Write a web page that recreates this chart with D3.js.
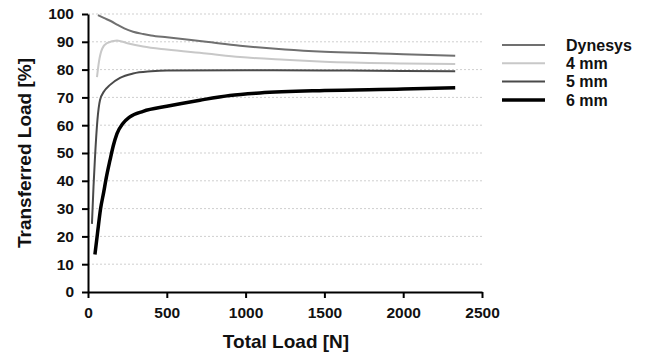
<!DOCTYPE html>
<html>
<head>
<meta charset="utf-8">
<script src="https://cdn.jsdelivr.net/npm/d3@7"></script>
<style>
  body { margin: 0; background: #fff; }
  svg text { font-family: "Liberation Sans", Arial, sans-serif; font-weight: bold; fill: #111; }
</style>
</head>
<body>
<svg id="chart" width="650" height="353"></svg>
<script>
// Data: [total load N, transferred load %]
const dynesys = [[63,99.6],[100,98.6],[150,97.3],[184,96.2],[230,94.8],[286,93.6],[350,92.8],[400,92.3],[501,91.6],[750,90],[965,88.6],[1250,87.2],[1500,86.4],[1850,85.8],[2000,85.5],[2330,85]];
const mm4 = [[57,77.3],[70,83],[90,87.5],[120,89.5],[184,90.5],[250,89.5],[350,88.3],[500,87.2],[750,85.8],[965,84.5],[1250,83.5],[1500,82.8],[2000,82.2],[2330,82]];
const mm5 = [[25,24.5],[35,38],[44,48],[60,62],[76,69],[100,72],[140,74.5],[203,77],[286,78.6],[400,79.4],[501,79.7],[1000,79.8],[1500,79.7],[2000,79.5],[2330,79.4]];
const mm6 = [[44,13.5],[60,21],[80,30],[100,36],[114,40.5],[140,47.5],[160,52.5],[184,57],[220,60.5],[266,63],[350,65],[500,66.8],[710,69],[900,70.7],[1090,71.6],[1500,72.5],[2000,73],[2330,73.5]];

const seriesNames = ['Dynesys', '4 mm', '5 mm', '6 mm'];
const seriesData = [dynesys, mm4, mm5, mm6];
const seriesColors = ['#707070', '#c8c8c8', '#4a4a4a', '#000000'];
const seriesWidths = [2, 2, 2, 3.5];

const xTicks = [0, 500, 1000, 1500, 2000, 2500];
const yTicks = [0, 10, 20, 30, 40, 50, 60, 70, 80, 90, 100];

const svg = d3.select('#chart');

const x = d3.scaleLinear().domain([0, 2500]).range([88, 482]);
const y = d3.scaleLinear().domain([0, 100]).range([292, 14]);

// Dotted gridlines
svg.append('g')
  .selectAll('line')
  .data(yTicks.filter(d => d > 0))
  .enter()
  .append('line')
  .attr('x1', x(0))
  .attr('x2', x(2500))
  .attr('y1', d => y(d))
  .attr('y2', d => y(d))
  .attr('stroke', '#cfcfcf')
  .attr('stroke-width', 1)
  .attr('stroke-dasharray', '2,2');

// Curves
const line = d3.line()
  .x(d => x(d[0]))
  .y(d => y(d[1]))
  .curve(d3.curveMonotoneX);

svg.append('g')
  .selectAll('path')
  .data(seriesData)
  .enter()
  .append('path')
  .attr('d', line)
  .attr('fill', 'none')
  .attr('stroke', (d, i) => seriesColors[i])
  .attr('stroke-width', (d, i) => seriesWidths[i]);

// Axes
const xAxis = svg.append('g')
  .attr('transform', 'translate(0,' + y(0) + ')')
  .call(d3.axisBottom(x).tickValues(xTicks).tickFormat(d3.format('d'))
    .tickSize(6).tickPadding(9).tickSizeOuter(0));

const yAxis = svg.append('g')
  .attr('transform', 'translate(' + x(0) + ',0)')
  .call(d3.axisLeft(y).tickValues(yTicks).tickFormat(d3.format('d'))
    .tickSize(6).tickPadding(8).tickSizeOuter(0));

[xAxis, yAxis].forEach(function (g) {
  g.select('.domain').attr('stroke', '#000').attr('stroke-width', 2);
  g.selectAll('.tick line').attr('stroke', '#000').attr('stroke-width', 2);
  g.selectAll('.tick text').style('font-size', '15.5px').style('font-weight', 'bold')
    .style('font-family', '"Liberation Sans", Arial, sans-serif').attr('fill', '#111');
});

// Axis titles
svg.append('text')
  .attr('x', 286)
  .attr('y', 348)
  .attr('text-anchor', 'middle')
  .style('font-size', '19px')
  .text('Total Load [N]');

svg.append('text')
  .attr('transform', 'translate(31,153) rotate(-90)')
  .attr('text-anchor', 'middle')
  .style('font-size', '19px')
  .text('Transferred Load [%]');

// Legend
const legend = svg.append('g')
  .selectAll('g')
  .data(seriesNames)
  .enter()
  .append('g')
  .attr('transform', (d, i) => 'translate(502,' + (45 + i * 18.3) + ')');

legend.append('line')
  .attr('x1', 0)
  .attr('x2', 43)
  .attr('stroke', (d, i) => seriesColors[i])
  .attr('stroke-width', (d, i) => seriesWidths[i]);

legend.append('text')
  .attr('x', 64)
  .attr('dy', '0.35em')
  .style('font-size', '16px')
  .text(d => d);
</script>
</body>
</html>
